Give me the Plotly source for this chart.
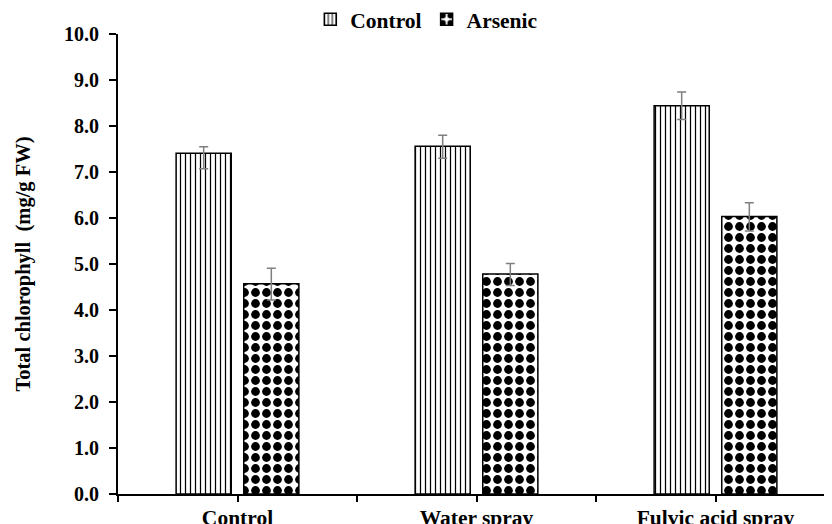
import plotly.graph_objects as go

categories = ["Control", "Water spray", "Fulvic acid spray"]
control_vals = [7.41, 7.56, 8.44]
control_err_plus = [0.14, 0.24, 0.30]
control_err_minus = [0.34, 0.26, 0.30]
arsenic_vals = [4.57, 4.78, 6.03]
arsenic_err_plus = [0.34, 0.23, 0.30]
arsenic_err_minus = [0.35, 0.25, 0.31]
y_ticks = [0, 1, 2, 3, 4, 5, 6, 7, 8, 9, 10]

xpos = list(range(len(categories)))
FONT = "Liberation Serif"

fig = go.Figure()
fig.add_trace(go.Bar(
    name="Control", x=xpos, y=control_vals,
    marker=dict(color="white", line=dict(color="black", width=1.5),
                pattern=dict(shape="|", size=5, solidity=0.25, fgopacity=1,
                             fgcolor="black", bgcolor="white", fillmode="overlay")),
    error_y=dict(type="data", symmetric=False, array=control_err_plus,
                 arrayminus=control_err_minus, color="#7f7f7f",
                 thickness=1.5, width=4.5),
))
fig.add_trace(go.Bar(
    name="Arsenic", x=xpos, y=arsenic_vals,
    marker=dict(color="white", line=dict(color="black", width=1.5),
                pattern=dict(shape=".", size=11, solidity=0.5, fgopacity=1,
                             fgcolor="black", bgcolor="white", fillmode="overlay")),
    error_y=dict(type="data", symmetric=False, array=arsenic_err_plus,
                 arrayminus=arsenic_err_minus, color="#7f7f7f",
                 thickness=1.5, width=4.5),
))

tickvals = []
ticktext = []
for i, c in enumerate(categories):
    tickvals += [i - 0.5, i]
    ticktext += ["", c]
tickvals.append(len(categories) - 0.5)
ticktext.append("")

fig.update_layout(
    width=832, height=524,
    margin=dict(l=110, r=5, t=26, b=38, autoexpand=False),
    paper_bgcolor="white", plot_bgcolor="white",
    barmode="group", bargap=0.434, bargroupgap=0.185,
    font=dict(family=FONT, color="black", size=20),
    showlegend=True,
    legend=dict(orientation="h", x=0.43, xanchor="center", y=1.032, yanchor="middle",
                font=dict(family=FONT, size=21.5, weight="bold"),
                itemwidth=30, tracegroupgap=0, bgcolor="rgba(0,0,0,0)"),
    xaxis=dict(range=[-0.5, len(categories) - 0.5], tickmode="array",
               tickvals=tickvals, ticktext=ticktext, automargin=False,
               showline=True, linecolor="black", linewidth=2,
               ticks="outside", ticklen=6, tickwidth=2, tickcolor="black",
               ticklabelstandoff=-3,
               tickfont=dict(family=FONT, size=21.5, weight="bold"),
               showgrid=False, zeroline=False),
    yaxis=dict(range=[0, 10], tickmode="array", tickvals=y_ticks,
               ticktext=[f"{v:.1f}" for v in y_ticks], automargin=False,
               showline=True, linecolor="black", linewidth=2,
               ticks="outside", ticklen=7, tickwidth=2, tickcolor="black",
               ticklabelstandoff=6,
               tickfont=dict(family=FONT, size=20, weight="bold"),
               showgrid=False, zeroline=False,
               title=dict(text="Total chlorophyll  (mg/g FW)",
                          font=dict(family=FONT, size=20.5, weight="bold"),
                          standoff=28)),
)

fig.write_html("out.html")
